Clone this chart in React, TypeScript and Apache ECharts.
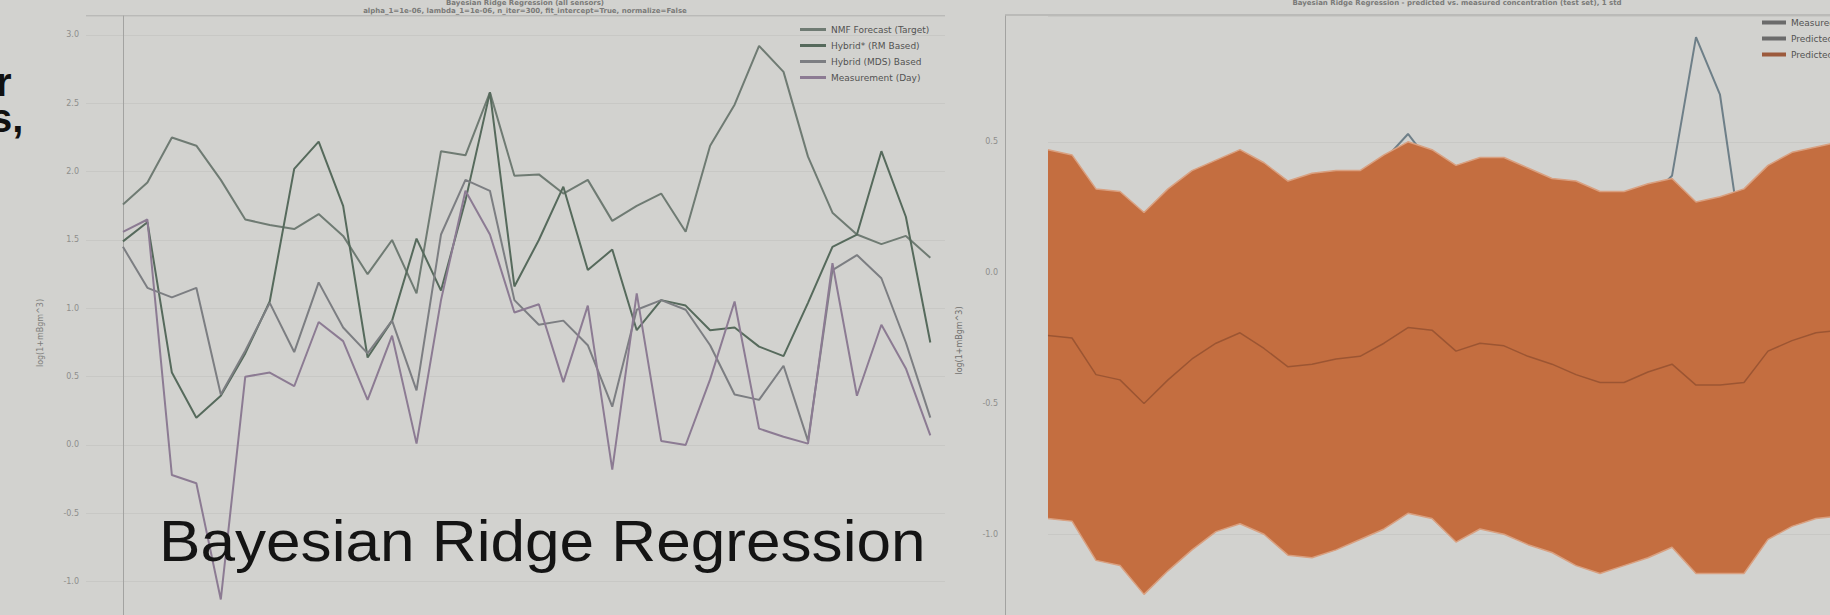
import React, { useEffect, useRef } from "react";
import * as echarts from "echarts";

// ---------- data ----------
const SAMPLE_INDEX = [0, 1, 2, 3, 4, 5, 6, 7, 8, 9, 10, 11, 12, 13, 14, 15, 16, 17, 18, 19, 20, 21, 22, 23, 24, 25, 26, 27, 28, 29, 30, 31, 32, 33];

const LEFT_NAMES = ["NMF Forecast (Target)", "Hybrid* (RM Based)", "Hybrid (MDS) Based", "Measurement (Day)"];
const NMF_FORECAST = [1.76, 1.92, 2.25, 2.19, 1.94, 1.65, 1.61, 1.58, 1.69, 1.53, 1.25, 1.5, 1.11, 2.15, 2.12, 2.58, 1.97, 1.98, 1.84, 1.94, 1.64, 1.75, 1.84, 1.56, 2.19, 2.49, 2.92, 2.73, 2.11, 1.7, 1.54, 1.47, 1.53, 1.37];
const HYBRID_RM = [1.49, 1.63, 0.53, 0.2, 0.36, 0.67, 1.05, 2.02, 2.22, 1.75, 0.64, 0.91, 1.51, 1.13, 1.79, 2.58, 1.16, 1.5, 1.89, 1.28, 1.43, 0.84, 1.06, 1.02, 0.84, 0.86, 0.72, 0.65, 1.04, 1.45, 1.54, 2.15, 1.67, 0.75];
const HYBRID_MDS = [1.45, 1.15, 1.08, 1.15, 0.37, 0.69, 1.04, 0.68, 1.19, 0.86, 0.67, 0.91, 0.4, 1.54, 1.94, 1.86, 1.06, 0.88, 0.91, 0.73, 0.28, 0.99, 1.06, 0.99, 0.73, 0.37, 0.33, 0.58, 0.03, 1.28, 1.39, 1.22, 0.75, 0.2];
const MEASUREMENT = [1.56, 1.65, -0.22, -0.28, -1.13, 0.5, 0.53, 0.43, 0.9, 0.76, 0.33, 0.8, 0.01, 1.06, 1.86, 1.54, 0.97, 1.03, 0.46, 1.02, -0.18, 1.11, 0.03, 0.0, 0.48, 1.05, 0.12, 0.06, 0.01, 1.33, 0.36, 0.88, 0.56, 0.07];
const LEFT_COLORS = ["#6f7b73", "#566a5c", "#7c7e82", "#8c7b93"];

const RIGHT_NAMES = ["Measured (test set)", "Predicted mean", "Predicted \u00b1 1 std"];
const BAND_UPPER = [0.47, 0.45, 0.32, 0.31, 0.23, 0.32, 0.39, 0.43, 0.47, 0.42, 0.35, 0.38, 0.39, 0.39, 0.45, 0.5, 0.47, 0.41, 0.44, 0.44, 0.4, 0.36, 0.35, 0.31, 0.31, 0.34, 0.36, 0.27, 0.29, 0.32, 0.41, 0.46, 0.48, 0.5];
const BAND_LOWER = [-0.94, -0.95, -1.1, -1.12, -1.23, -1.14, -1.06, -0.99, -0.96, -1.0, -1.08, -1.09, -1.06, -1.02, -0.98, -0.92, -0.94, -1.03, -0.98, -1.0, -1.04, -1.07, -1.12, -1.15, -1.12, -1.09, -1.05, -1.15, -1.15, -1.15, -1.02, -0.97, -0.94, -0.93];
const PRED_MEAN = [-0.24, -0.25, -0.39, -0.41, -0.5, -0.41, -0.33, -0.27, -0.23, -0.29, -0.36, -0.35, -0.33, -0.32, -0.27, -0.21, -0.22, -0.3, -0.27, -0.28, -0.32, -0.35, -0.39, -0.42, -0.42, -0.38, -0.35, -0.43, -0.43, -0.42, -0.3, -0.26, -0.23, -0.22];
// measured values are only visible where they rise above the band
const MEASURED = [null, null, null, null, null, null, null, null, null, null, null, null, null, null, 0.43, 0.53, 0.41, null, null, null, null, null, null, null, null, 0.28, 0.37, 0.9, 0.68, 0.05, null, null, null, null];

const LEFT_TITLE_1 = "Bayesian Ridge Regression (all sensors)";
const LEFT_TITLE_2 = "alpha_1=1e-06, lambda_1=1e-06, n_iter=300, fit_intercept=True, normalize=False";
const RIGHT_TITLE = "Bayesian Ridge Regression - predicted vs. measured concentration (test set), 1 std";
const Y_NAME = "log(1+mBgm^3)";
const OVERLAY = "Bayesian Ridge Regression";

const BG = "#d2d2cf";
const FONT = "DejaVu Sans";

export default function App() {
  const ref = useRef<HTMLDivElement>(null);

  useEffect(() => {
    document.body.style.margin = "0";
    document.body.style.background = BG;
    document.body.style.overflow = "hidden";
    const chart = echarts.init(ref.current!, undefined, { renderer: "svg" });

    const leftData = [NMF_FORECAST, HYBRID_RM, HYBRID_MDS, MEASUREMENT];
    const leftSeries = leftData.map((vals, k) => ({
      name: LEFT_NAMES[k],
      type: "line",
      xAxisIndex: 0,
      yAxisIndex: 0,
      data: SAMPLE_INDEX.map((x, i) => [x, vals[i]]),
      showSymbol: false,
      lineStyle: { color: LEFT_COLORS[k], width: 2 },
      itemStyle: { color: LEFT_COLORS[k] },
      z: 2 + k,
    }));

    const bandDiff = BAND_UPPER.map((u, i) => +(u - BAND_LOWER[i]).toFixed(3));

    const axisLabel = {
      color: "#8e8e8c",
      fontSize: 8,
      fontFamily: FONT,
      margin: 7,
      showMaxLabel: false,
      showMinLabel: false,
      formatter: (v: number) => v.toFixed(1),
    };

    const legendText = { fontSize: 9, lineHeight: 11, color: "#525252", fontFamily: FONT };

    const option: any = {
      animation: false,
      backgroundColor: BG,
      textStyle: { fontFamily: FONT },
      grid: [
        { left: 86, top: 16, width: 859, height: 634 },
        { left: 1048, top: 16, width: 792, height: 649 },
      ],
      xAxis: [
        { type: "value", gridIndex: 0, min: -1.51, max: 33.6, show: false },
        { type: "category", gridIndex: 1, data: SAMPLE_INDEX.map(String), boundaryGap: false, show: false },
      ],
      yAxis: [
        {
          type: "value",
          gridIndex: 0,
          min: -1.5,
          max: 3.139,
          interval: 0.5,
          axisLine: { show: true, lineStyle: { color: "#a3a3a1", width: 1 } },
          axisTick: { show: false },
          axisLabel,
          splitLine: { show: true, lineStyle: { color: "#c8c8c5", width: 1 } },
          name: Y_NAME,
          nameLocation: "middle",
          nameGap: 42,
          nameTextStyle: { color: "#7d7d7b", fontSize: 8, fontFamily: FONT },
        },
        {
          type: "value",
          gridIndex: 1,
          offset: 43,
          min: -1.5,
          max: 0.981,
          interval: 0.5,
          axisLine: { show: true, lineStyle: { color: "#a3a3a1", width: 1 } },
          axisTick: { show: false },
          axisLabel,
          splitLine: { show: true, lineStyle: { color: "#c8c8c5", width: 1 } },
          name: Y_NAME,
          nameLocation: "middle",
          nameGap: 42,
          nameTextStyle: { color: "#6f6f6d", fontSize: 8, fontFamily: FONT },
        },
      ],
      legend: [
        {
          data: LEFT_NAMES,
          left: 800,
          top: 24,
          orient: "vertical",
          icon: "rect",
          itemWidth: 26,
          itemHeight: 3,
          itemGap: 5,
          padding: 0,
          selectedMode: false,
          textStyle: legendText,
        },
        {
          data: RIGHT_NAMES,
          left: 1762,
          top: 17,
          orient: "vertical",
          icon: "rect",
          itemWidth: 24,
          itemHeight: 4,
          itemGap: 5,
          padding: 0,
          selectedMode: false,
          textStyle: legendText,
        },
      ],
      series: [
        ...leftSeries,
        {
          name: RIGHT_NAMES[0],
          type: "line",
          xAxisIndex: 1,
          yAxisIndex: 1,
          data: MEASURED.map((v) => (v === null ? "-" : v)),
          connectNulls: false,
          showSymbol: false,
          lineStyle: { color: "#6e7f88", width: 2 },
          itemStyle: { color: "#6b6b6b" },
          z: 2,
        },
        {
          name: "band-lower",
          type: "line",
          xAxisIndex: 1,
          yAxisIndex: 1,
          stack: "band",
          stackStrategy: "all",
          data: BAND_LOWER,
          showSymbol: false,
          lineStyle: { color: "#d9a080", width: 1.5 },
          itemStyle: { color: "#c46e40" },
          z: 3,
        },
        {
          name: RIGHT_NAMES[2],
          type: "line",
          xAxisIndex: 1,
          yAxisIndex: 1,
          stack: "band",
          stackStrategy: "all",
          data: bandDiff,
          showSymbol: false,
          lineStyle: { color: "#d9a080", width: 1.5 },
          areaStyle: { color: "#c46e40", opacity: 1 },
          itemStyle: { color: "#9c5a3c" },
          z: 3,
        },
        {
          name: RIGHT_NAMES[1],
          type: "line",
          xAxisIndex: 1,
          yAxisIndex: 1,
          data: PRED_MEAN,
          showSymbol: false,
          lineStyle: { color: "#9c5532", width: 1.5 },
          itemStyle: { color: "#6b6b6b" },
          z: 4,
        },
      ],
      graphic: [
        { type: "line", shape: { x1: 86, y1: 16, x2: 945, y2: 16 }, style: { stroke: "#a3a3a1", lineWidth: 1 }, silent: true },
        { type: "line", shape: { x1: 1005, y1: 15, x2: 1830, y2: 15 }, style: { stroke: "#a3a3a1", lineWidth: 1 }, silent: true },
        {
          type: "text", x: 525, y: 3,
          style: { text: LEFT_TITLE_1, fontSize: 7, fontFamily: FONT, fontWeight: "bold", fill: "#7a7a78", align: "center", verticalAlign: "middle" },
        },
        {
          type: "text", x: 525, y: 11,
          style: { text: LEFT_TITLE_2, fontSize: 7, fontFamily: FONT, fontWeight: "bold", fill: "#7a7a78", align: "center", verticalAlign: "middle" },
        },
        {
          type: "text", x: 1457, y: 3,
          style: { text: RIGHT_TITLE, fontSize: 7, fontFamily: FONT, fontWeight: "bold", fill: "#7a7a78", align: "center", verticalAlign: "middle" },
        },
        {
          type: "text", x: 159, y: 541, scaleX: 1.09, z: 100,
          style: { text: OVERLAY, fontSize: 57, fontFamily: "Liberation Sans", fill: "#141414", align: "left", verticalAlign: "middle" },
        },
        {
          type: "text", x: -10, y: 64, z: 100,
          style: {
            text: "{a|r}\n{b|s,}",
            fontSize: 40,
            fontWeight: "bold",
            fontFamily: "Liberation Sans",
            fill: "#111",
            align: "left",
            verticalAlign: "top",
            rich: {
              a: { fontSize: 40, fontWeight: "bold", fontFamily: "Liberation Sans", fill: "#111", lineHeight: 36, padding: [0, 0, 0, 6] },
              b: { fontSize: 40, fontWeight: "bold", fontFamily: "Liberation Sans", fill: "#111", lineHeight: 36 },
            },
          },
        },
      ],
    };

    chart.setOption(option);
    return () => chart.dispose();
  }, []);

  return <div ref={ref} style={{ position: "fixed", left: 0, top: 0, width: 1950, height: 670 }} />;
}
